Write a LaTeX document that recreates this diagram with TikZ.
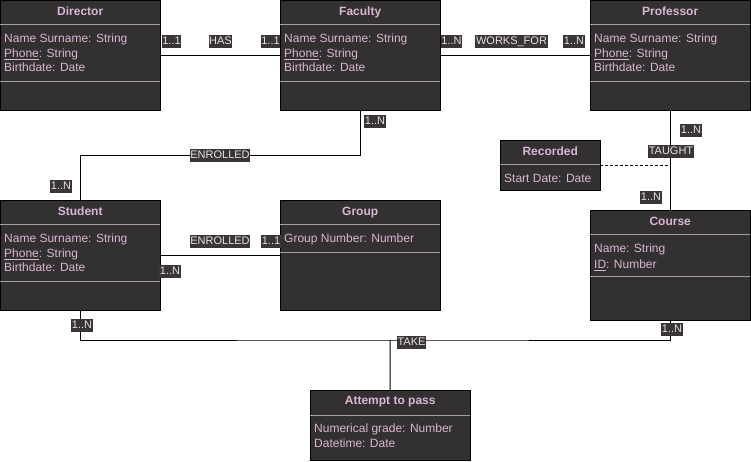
\documentclass[tikz,border=0pt]{standalone}
\usepackage{fontspec}
\setmainfont{Liberation Sans}
\usetikzlibrary{positioning}
\definecolor{boxgray}{HTML}{323031}
\definecolor{attrpink}{HTML}{D9B6D3}
\definecolor{sepgray}{HTML}{A39FA1}
\definecolor{tagbg}{HTML}{3A3638}
\definecolor{tagtext}{HTML}{E8DEE6}

\begin{document}
\begin{tikzpicture}[x=1pt,y=-1pt,
                entity/.style={rectangle,draw=black,fill=boxgray,anchor=north west,inner sep=0pt,minimum width=160pt,minimum height=110pt},
                title/.style={text=attrpink,font=\fontsize{12}{14}\selectfont\bfseries,inner sep=0pt},
                attrs/.style={text=attrpink,font=\fontsize{12}{14.5}\selectfont,align=left,inner sep=0pt},
                sep/.style={draw=sepgray,line width=0.8pt},
                rel/.style={draw=black,line width=1pt},
                tag/.style={fill=tagbg,text=tagtext,font=\fontsize{11}{12}\selectfont,inner xsep=0.6pt,inner ysep=2pt,text height=8pt,text depth=1pt},
                ]
                \useasboundingbox (0,0) rectangle (751,461);
                
                % entities
                \node[entity] (director) at (0,0) {};
                \node[entity] (faculty) at (280,0) {};
                \node[entity] (professor) at (590,0) {};
                \node[entity] (student) at (0,200) {};
                \node[entity] (group) at (280,200) {};
                \node[entity] (course) at (590,210) {};
                \node[entity, minimum width=100pt, minimum height=50pt] (recorded) at (500,140) {};
                \node[entity, minimum height=70pt] (attempt) at (310,390) {};
                
                \node[title, below=6.5pt of director.north] (directorTitle) {Director};
                \node[title, below=6.5pt of faculty.north] (facultyTitle) {Faculty};
                \node[title, below=6.5pt of professor.north] (professorTitle) {Professor};
                \node[title, below=6.5pt of student.north] (studentTitle) {Student};
                \node[title, below=6.5pt of group.north] (groupTitle) {Group};
                \node[title, below=6.5pt of course.north] (courseTitle) {Course};
                \node[title, below=6.5pt of recorded.north] (recordedTitle) {Recorded};
                \node[title, below=6.5pt of attempt.north] (attemptTitle) {Attempt to pass};
                
                \node[attrs, below right=34pt and 4pt of director.north west] (directorAttrs) {Name Surname: String\\\underline{Phone}: String\\Birthdate: Date};
                \node[attrs, below right=34pt and 4pt of faculty.north west] (facultyAttrs) {Name Surname: String\\\underline{Phone}: String\\Birthdate: Date};
                \node[attrs, below right=34pt and 4pt of professor.north west] (professorAttrs) {Name Surname: String\\\underline{Phone}: String\\Birthdate: Date};
                \node[attrs, below right=34pt and 4pt of student.north west] (studentAttrs) {Name Surname: String\\\underline{Phone}: String\\Birthdate: Date};
                \node[attrs, below right=34pt and 4pt of group.north west] (groupAttrs) {Group Number: Number};
                \node[attrs, below right=33.5pt and 4pt of course.north west, font=\fontsize{12}{16}\selectfont] (courseAttrs) {Name: String\\\underline{ID}: Number};
                \node[attrs, below right=33.5pt and 4pt of recorded.north west] (recordedAttrs) {Start Date: Date};
                \node[attrs, below right=34pt and 4pt of attempt.north west] (attemptAttrs) {Numerical grade: Number\\Datetime: Date};
                
                % separators
                \draw[sep] ([yshift=-24pt]director.north west) -- ([yshift=-24pt]director.north east);
                \draw[sep] ([yshift=-81pt]director.north west) -- ([yshift=-81pt]director.north east);
                \draw[sep] ([yshift=-24pt]faculty.north west) -- ([yshift=-24pt]faculty.north east);
                \draw[sep] ([yshift=-81pt]faculty.north west) -- ([yshift=-81pt]faculty.north east);
                \draw[sep] ([yshift=-24pt]professor.north west) -- ([yshift=-24pt]professor.north east);
                \draw[sep] ([yshift=-81pt]professor.north west) -- ([yshift=-81pt]professor.north east);
                \draw[sep] ([yshift=-24pt]student.north west) -- ([yshift=-24pt]student.north east);
                \draw[sep] ([yshift=-81pt]student.north west) -- ([yshift=-81pt]student.north east);
                \draw[sep] ([yshift=-24pt]group.north west) -- ([yshift=-24pt]group.north east);
                \draw[sep] ([yshift=-52pt]group.north west) -- ([yshift=-52pt]group.north east);
                \draw[sep] ([yshift=-24pt]course.north west) -- ([yshift=-24pt]course.north east);
                \draw[sep] ([yshift=-66pt]course.north west) -- ([yshift=-66pt]course.north east);
                \draw[sep] ([yshift=-24pt]recorded.north west) -- ([yshift=-24pt]recorded.north east);
                \draw[sep] ([yshift=-25pt]attempt.north west) -- ([yshift=-25pt]attempt.north east);
                
                % relations
                \draw[rel] (director.east) -- (faculty.west);
                \draw[rel] (faculty.east) -- (professor.west);
                \draw[rel] (faculty.south) -- ++(0,45) -| (student.north);
                \draw[rel] (student.east) -- (group.west);
                \draw[rel] (professor.south) -- (course.north);
                \draw[rel, dash pattern=on 3pt off 2pt] (recorded.east) -- (recorded.east -| course.north);
                \coordinate (take) at (390,340);
                \draw[rel] (student.south) |- (take) -| (course.south);
                \draw[rel] (take) -- (attempt.north);
                
                % labels
                \node[tag] (hasL) at (171.5,41) {1..1};
                \node[tag] (has) at (220.5,41) {HAS};
                \node[tag] (hasR) at (270.5,41) {1..1};
                \node[tag] (worksL) at (451.5,41) {1..N};
                \node[tag] (works) at (511.5,41) {WORKS\_FOR};
                \node[tag] (worksR) at (574,41) {1..N};
                \node[tag] (enrolledTop) at (375,121) {1..N};
                \node[tag] (enrolled) at (220,155) {ENROLLED};
                \node[tag] (enrolledBot) at (61,186) {1..N};
                \node[tag] (groupEnrolled) at (220,241) {ENROLLED};
                \node[tag] (groupR) at (271,241) {1..1};
                \node[tag] (groupL) at (170,271) {1..N};
                \node[tag] (taughtTop) at (691,130) {1..N};
                \node[tag] (taught) at (671,151) {TAUGHT};
                \node[tag] (taughtBot) at (651,197) {1..N};
                \node[tag] (takeL) at (82,325) {1..N};
                \node[tag] (takeR) at (672,329) {1..N};
                \node[tag] (takeT) at (411.5,342) {TAKE};
            \end{tikzpicture}
\end{document}
